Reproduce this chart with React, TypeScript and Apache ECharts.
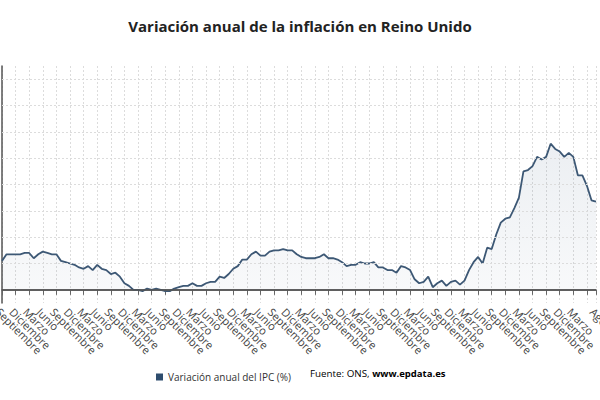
import React, { useEffect, useRef } from "react";
import * as echarts from "echarts";

const TITLE = "Variación anual de la inflación en Reino Unido";
const SERIES_NAME = "Variación anual del IPC (%)";
const SOURCE_PREFIX = "Fuente: ONS, ";
const SOURCE_SITE = "www.epdata.es";

const MONTHS = [
  "Enero", "Febrero", "Marzo", "Abril", "Mayo", "Junio",
  "Julio", "Agosto", "Septiembre", "Octubre", "Noviembre", "Diciembre",
];
const START_MONTH_INDEX = 8; // Septiembre 2012

const V2012 = [2.2, 2.7, 2.7, 2.7];
const V2013 = [2.7, 2.8, 2.8, 2.4, 2.7, 2.9, 2.8, 2.7, 2.7, 2.2, 2.1, 2.0];
const V2014 = [1.9, 1.7, 1.6, 1.8, 1.5, 1.9, 1.6, 1.5, 1.2, 1.3, 1.0, 0.5];
const V2015 = [0.3, 0.0, 0.0, -0.1, 0.1, 0.0, 0.1, 0.0, -0.1, -0.1, 0.1, 0.2];
const V2016 = [0.3, 0.3, 0.5, 0.3, 0.3, 0.5, 0.6, 0.6, 1.0, 0.9, 1.2, 1.6];
const V2017 = [1.8, 2.3, 2.3, 2.7, 2.9, 2.6, 2.6, 2.9, 3.0, 3.0, 3.1, 3.0];
const V2018 = [3.0, 2.7, 2.5, 2.4, 2.4, 2.4, 2.5, 2.7, 2.4, 2.4, 2.3, 2.1];
const V2019 = [1.8, 1.9, 1.9, 2.1, 2.0, 2.0, 2.1, 1.7, 1.7, 1.5, 1.5, 1.3];
const V2020 = [1.8, 1.7, 1.5, 0.8, 0.5, 0.6, 1.0, 0.2, 0.5, 0.7, 0.3, 0.6];
const V2021 = [0.7, 0.4, 0.7, 1.5, 2.1, 2.5, 2.0, 3.2, 3.1, 4.2, 5.1, 5.4];
const V2022 = [5.5, 6.2, 7.0, 9.0, 9.1, 9.4, 10.1, 9.9, 10.1, 11.1, 10.7, 10.5];
const V2023 = [10.1, 10.4, 10.1, 8.7, 8.7, 7.9, 6.8, 6.7];

const VALUES = [
  ...V2012, ...V2013, ...V2014, ...V2015, ...V2016, ...V2017,
  ...V2018, ...V2019, ...V2020, ...V2021, ...V2022, ...V2023,
];
const CATEGORIES = VALUES.map((_, i) => MONTHS[(START_MONTH_INDEX + i) % 12]);

const Y_MIN = -1;
const Y_MAX = 17;
const GRID_VALUES = [2, 4, 6, 8, 10, 12, 14, 16];
const ZERO_VALUE = 0;

const FONT = "'Open Sans', 'Noto Sans', sans-serif";

export default function App() {
  const ref = useRef<HTMLDivElement>(null);

  useEffect(() => {
    if (!ref.current) return;
    const chart = echarts.init(ref.current, null, { renderer: "svg" });
    const last = VALUES.length - 1;
    const showLabel = (i: number) => i === last || (i % 3 === 0 && i <= last - 4);
    chart.setOption({
      animation: false,
      title: {
        text: TITLE,
        left: "center",
        top: 13,
        textStyle: { fontFamily: FONT, fontSize: 15, fontWeight: "bold", color: "#222" },
      },
      grid: {
        left: 2,
        right: 4,
        top: 66,
        bottom: 97,
        containLabel: false,
        outerBoundsMode: "none",
      },
      legend: {
        left: 151,
        top: 367,
        icon: "rect",
        itemWidth: 7,
        itemHeight: 7,
        itemGap: 10,
        textStyle: { fontFamily: FONT, fontSize: 10, color: "#333" },
        data: [SERIES_NAME],
      },
      graphic: [
        {
          type: "text",
          left: 310,
          top: 368,
          style: {
            text: `{a|${SOURCE_PREFIX}}{b|${SOURCE_SITE}}`,
            rich: {
              a: { fontFamily: FONT, fontSize: 9.8, color: "#333" },
              b: { fontFamily: FONT, fontSize: 9.5, color: "#222", fontWeight: "bold" },
            },
          },
        },
      ],
      xAxis: {
        type: "category",
        data: CATEGORIES,
        boundaryGap: false,
        axisLine: { show: true, lineStyle: { color: "#555", width: 1.5 } },
        axisTick: {
          show: true,
          interval: 2,
          length: 5,
          lineStyle: { color: "#666" },
        },
        splitLine: {
          show: true,
          interval: 2,
          lineStyle: { color: "#dcdcdc", type: [2, 2], width: 1 },
        },
        axisLabel: {
          rotate: -45,
          align: "left",
          verticalAlign: "top",
          margin: 3,
          fontFamily: FONT,
          fontSize: 11,
          color: "#444",
          hideOverlap: false,
          interval: 0,
          formatter: (value: string, index: number) => (showLabel(index) ? value : ""),
        },
      },
      yAxis: {
        type: "value",
        min: Y_MIN,
        max: Y_MAX,
        axisLine: { show: true, lineStyle: { color: "#555", width: 1.5 } },
        axisTick: { show: false },
        axisLabel: { show: false },
        splitLine: { show: false },
      },
      series: [
        {
          name: "grid",
          type: "line",
          data: VALUES,
          z: 1,
          silent: true,
          showSymbol: false,
          lineStyle: { opacity: 0 },
          legendHoverLink: false,
          markLine: {
            silent: true,
            symbol: "none",
            label: { show: false },
            data: GRID_VALUES.map((v) => ({
              yAxis: v,
              lineStyle: { color: "#dcdcdc", type: [2, 2], width: 1 },
            })),
          },
        },
        {
          name: SERIES_NAME,
          type: "line",
          data: VALUES,
          z: 3,
          showSymbol: false,
          symbol: "none",
          itemStyle: { color: "#2e4d6e" },
          lineStyle: { color: "#3d5875", width: 1.8 },
          areaStyle: {
            origin: 0,
            color: new echarts.graphic.LinearGradient(0, 0, 0, 1, [
              { offset: 0, color: "rgba(60,90,125,0.14)" },
              { offset: 1, color: "rgba(60,90,125,0.05)" },
            ]),
          },
          markLine: {
            silent: true,
            symbol: "none",
            label: { show: false },
            data: [{ yAxis: ZERO_VALUE, lineStyle: { color: "#555", type: "solid", width: 1.5 } }],
          },
        },
      ],
    });
    return () => chart.dispose();
  }, []);

  return (
    <div
      ref={ref}
      style={{ position: "absolute", left: 0, top: 0, width: 600, height: 400 }}
    />
  );
}
